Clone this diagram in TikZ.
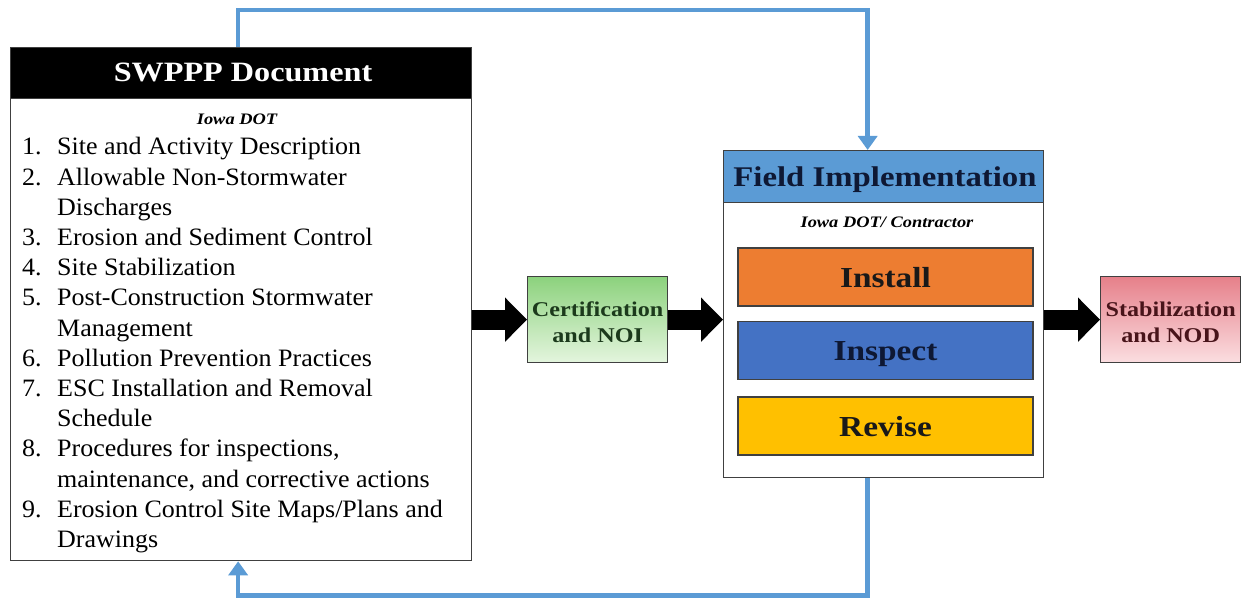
\documentclass[tikz,border=0pt]{standalone}
\usepackage{fontspec}
\setmainfont{Liberation Serif}[FakeStretch=1.04]
\newfontfamily\headfont{Liberation Serif}[FakeStretch=1.15]
\usetikzlibrary{arrows.meta, positioning, calc}

\definecolor{loopblue}{RGB}{91,155,213}
\definecolor{headblue}{RGB}{91,155,213}
\definecolor{installorange}{RGB}{237,125,49}
\definecolor{inspectblue}{RGB}{68,114,196}
\definecolor{revisegold}{RGB}{255,192,0}
\definecolor{certtop}{RGB}{140,210,125}
\definecolor{certbottom}{RGB}{228,245,222}
\definecolor{certtext}{RGB}{28,58,28}
\definecolor{stabtop}{RGB}{230,128,138}
\definecolor{stabbottom}{RGB}{251,222,225}
\definecolor{stabtext}{RGB}{72,20,26}
\definecolor{navytext}{RGB}{14,24,52}

\begin{document}
\begin{tikzpicture}[x=1pt, y=-1pt,
    framebox/.style={draw=black!75, line width=1.3pt, inner sep=0pt},
    taskbox/.style={framebox, minimum width=295pt, minimum height=58pt, text height=21pt, text depth=0pt,
        font=\headfont\fontsize{29}{34}\selectfont\bfseries},
    stagebox/.style={framebox, minimum width=140pt, minimum height=86pt},
    stagetext/.style={align=center, inner sep=0pt, font=\headfont\fontsize{21}{26}\selectfont\bfseries},
    listtext/.style={anchor=base west, inner sep=0pt, font=\fontsize{25}{28}\selectfont},
    blockarrow/.style={line width=20pt, -{Triangle[length=22pt,width=43pt]}},
    loopline/.style={loopblue, line width=4.5pt, -{Triangle[length=14pt,width=19pt]}}]

    \useasboundingbox (0,0) rectangle (1243,601);

    % --- LEFT SIDE: SWPPP DOCUMENT ---
    \node[framebox, fill=white, anchor=north west, minimum width=461pt, minimum height=513pt] (swppp) at (10,47) {};
    \node[framebox, fill=black, anchor=north west, minimum width=461pt, minimum height=51pt] (swpppHead) at (10,47) {};
    \node[anchor=base, text=white, font=\headfont\fontsize{28}{32}\selectfont\bfseries] (swpppTitle) at (243,82) {SWPPP Document};
    \node[anchor=base, font=\headfont\fontsize{16}{18}\selectfont\bfseries\itshape] (swpppWho) at (237,125) {Iowa DOT};

    % list of contents, one line every 30.2px
    \foreach \k/\num/\txt in {0/1./{Site and Activity Description},
            1/2./{Allowable Non-Stormwater}, 2//{Discharges},
            3/3./{Erosion and Sediment Control}, 4/4./{Site Stabilization},
            5/5./{Post-Construction Stormwater}, 6//{Management},
            7/6./{Pollution Prevention Practices},
            8/7./{ESC Installation and Removal}, 9//{Schedule},
            10/8./{Procedures for inspections,}, 11//{maintenance, and corrective actions},
            12/9./{Erosion Control Site Maps/Plans and}, 13//{Drawings}} {
        \node[listtext] (num\k) at (22, 155+30.2*\k) {\num};
        \node[listtext] (item\k) at (57, 155+30.2*\k) {\txt};
    }

    % --- MIDDLE: CERTIFICATION ---
    \node[stagebox, top color=certtop, bottom color=certbottom, anchor=north west] (cert) at (527,276) {};
    \node[stagetext, text=certtext, yshift=-3pt] (certText) at (cert.center) {Certification\\and NOI};

    % --- RIGHT SIDE: FIELD IMPLEMENTATION ---
    \node[framebox, fill=white, anchor=north west, minimum width=320pt, minimum height=327pt] (field) at (723,150) {};
    \node[framebox, fill=headblue, anchor=north west, minimum width=320pt, minimum height=52pt] (fieldHead) at (723,150) {};
    \node[anchor=base, text=navytext, font=\headfont\fontsize{28.5}{32}\selectfont\bfseries] (fieldTitle) at (885,187) {Field Implementation};
    \node[anchor=base, font=\headfont\fontsize{16}{18}\selectfont\bfseries\itshape] (fieldWho) at (887,228) {Iowa DOT/ Contractor};

    \node[taskbox, fill=installorange, text=black!90] (install) at (885.5,277) {Install};
    \node[taskbox, fill=inspectblue, text=navytext] (inspect) at (885.5,350.5) {Inspect};
    \node[taskbox, fill=revisegold, text=black!90] (revise) at (885.5,426) {Revise};

    % --- FAR RIGHT: STABILIZATION ---
    \node[stagebox, top color=stabtop, bottom color=stabbottom, anchor=north west] (stab) at (1100,276) {};
    \node[stagetext, text=stabtext, yshift=-3pt] (stabText) at (stab.center) {Stabilization\\and NOD};

    % block arrows between the stages
    \draw[blockarrow] (swppp.east |- cert.west) -- (cert.west);
    \draw[blockarrow] (cert.east) -- (cert.east -| field.west);
    \draw[blockarrow] (field.east |- stab.west) -- (stab.west);

    % feedback loop
    \draw[loopline] ([xshift=-3pt]swppp.north) -- ++(0,-37) -| ([xshift=-16pt]field.north);
    \draw[loopline] ([xshift=-16pt]field.south) -- ++(0,117) -| ([xshift=-3pt]swppp.south);
\end{tikzpicture}
\end{document}
